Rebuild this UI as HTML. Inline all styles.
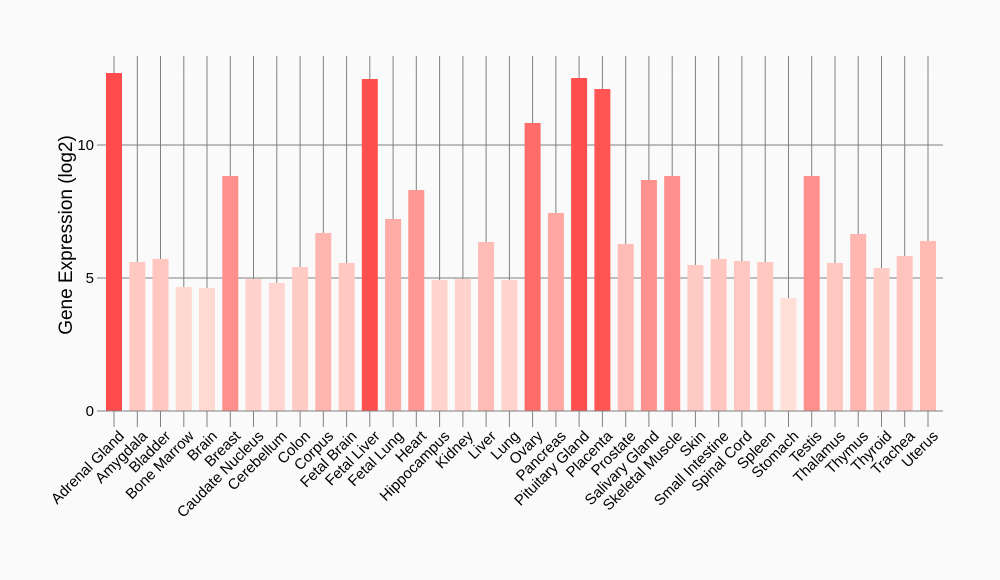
<!DOCTYPE html>
<html><head><meta charset="utf-8"><style>
html,body{margin:0;padding:0;background:#fafafa;}
svg{display:block;font-family:"Liberation Sans",sans-serif;}
</style></head><body>
<svg width="1000" height="580" viewBox="0 0 1000 580" xmlns="http://www.w3.org/2000/svg">
<rect width="1000" height="580" fill="#fafafa"/>
<line x1="103" y1="78" x2="943" y2="78" stroke="#ffffff" stroke-width="1"/>
<g stroke="#808080" stroke-width="1">
<line x1="114" y1="56" x2="114" y2="411"/><line x1="137.3" y1="56" x2="137.3" y2="411"/><line x1="160.5" y1="56" x2="160.5" y2="411"/><line x1="183.8" y1="56" x2="183.8" y2="411"/><line x1="207" y1="56" x2="207" y2="411"/><line x1="230.3" y1="56" x2="230.3" y2="411"/><line x1="253.5" y1="56" x2="253.5" y2="411"/><line x1="276.8" y1="56" x2="276.8" y2="411"/><line x1="300.1" y1="56" x2="300.1" y2="411"/><line x1="323.3" y1="56" x2="323.3" y2="411"/><line x1="346.6" y1="56" x2="346.6" y2="411"/><line x1="369.8" y1="56" x2="369.8" y2="411"/><line x1="393.1" y1="56" x2="393.1" y2="411"/><line x1="416.3" y1="56" x2="416.3" y2="411"/><line x1="439.6" y1="56" x2="439.6" y2="411"/><line x1="462.9" y1="56" x2="462.9" y2="411"/><line x1="486.1" y1="56" x2="486.1" y2="411"/><line x1="509.4" y1="56" x2="509.4" y2="411"/><line x1="532.6" y1="56" x2="532.6" y2="411"/><line x1="555.9" y1="56" x2="555.9" y2="411"/><line x1="579.1" y1="56" x2="579.1" y2="411"/><line x1="602.4" y1="56" x2="602.4" y2="411"/><line x1="625.7" y1="56" x2="625.7" y2="411"/><line x1="648.9" y1="56" x2="648.9" y2="411"/><line x1="672.2" y1="56" x2="672.2" y2="411"/><line x1="695.4" y1="56" x2="695.4" y2="411"/><line x1="718.7" y1="56" x2="718.7" y2="411"/><line x1="741.9" y1="56" x2="741.9" y2="411"/><line x1="765.2" y1="56" x2="765.2" y2="411"/><line x1="788.5" y1="56" x2="788.5" y2="411"/><line x1="811.7" y1="56" x2="811.7" y2="411"/><line x1="835" y1="56" x2="835" y2="411"/><line x1="858.2" y1="56" x2="858.2" y2="411"/><line x1="881.5" y1="56" x2="881.5" y2="411"/><line x1="904.7" y1="56" x2="904.7" y2="411"/><line x1="928" y1="56" x2="928" y2="411"/>
<line x1="97" y1="145" x2="943" y2="145"/><line x1="97" y1="278" x2="943" y2="278"/><line x1="97" y1="411" x2="943" y2="411"/>
</g>
<g>
<rect x="106" y="73" width="16" height="338" fill="rgb(255,75,75)"/>
<rect x="129.3" y="262" width="16" height="149" fill="rgb(255,200,193)"/>
<rect x="152.5" y="259" width="16" height="152" fill="rgb(255,199,192)"/>
<rect x="175.8" y="287" width="16" height="124" fill="rgb(255,217,209)"/>
<rect x="199" y="288" width="16" height="123" fill="rgb(255,217,210)"/>
<rect x="222.3" y="176" width="16" height="235" fill="rgb(255,143,140)"/>
<rect x="245.5" y="279" width="16" height="132" fill="rgb(255,211,204)"/>
<rect x="268.8" y="283" width="16" height="128" fill="rgb(255,214,207)"/>
<rect x="292.1" y="267" width="16" height="144" fill="rgb(255,204,197)"/>
<rect x="315.3" y="233" width="16" height="178" fill="rgb(255,181,175)"/>
<rect x="338.6" y="263" width="16" height="148" fill="rgb(255,201,194)"/>
<rect x="361.8" y="79" width="16" height="332" fill="rgb(255,79,79)"/>
<rect x="385.1" y="219" width="16" height="192" fill="rgb(255,172,167)"/>
<rect x="408.3" y="190" width="16" height="221" fill="rgb(255,152,148)"/>
<rect x="431.6" y="280" width="16" height="131" fill="rgb(255,212,205)"/>
<rect x="454.9" y="279" width="16" height="132" fill="rgb(255,211,204)"/>
<rect x="478.1" y="242" width="16" height="169" fill="rgb(255,187,181)"/>
<rect x="501.4" y="280" width="16" height="131" fill="rgb(255,212,205)"/>
<rect x="524.6" y="123" width="16" height="288" fill="rgb(255,108,106)"/>
<rect x="547.9" y="213" width="16" height="198" fill="rgb(255,168,163)"/>
<rect x="571.1" y="78" width="16" height="333" fill="rgb(255,78,78)"/>
<rect x="594.4" y="89" width="16" height="322" fill="rgb(255,85,85)"/>
<rect x="617.7" y="244" width="16" height="167" fill="rgb(255,188,182)"/>
<rect x="640.9" y="180" width="16" height="231" fill="rgb(255,146,143)"/>
<rect x="664.2" y="176" width="16" height="235" fill="rgb(255,143,140)"/>
<rect x="687.4" y="265" width="16" height="146" fill="rgb(255,202,195)"/>
<rect x="710.7" y="259" width="16" height="152" fill="rgb(255,198,192)"/>
<rect x="733.9" y="261" width="16" height="150" fill="rgb(255,199,193)"/>
<rect x="757.2" y="262" width="16" height="149" fill="rgb(255,200,193)"/>
<rect x="780.5" y="298" width="16" height="113" fill="rgb(255,224,216)"/>
<rect x="803.7" y="176" width="16" height="235" fill="rgb(255,143,140)"/>
<rect x="827" y="263" width="16" height="148" fill="rgb(255,201,194)"/>
<rect x="850.2" y="234" width="16" height="177" fill="rgb(255,182,176)"/>
<rect x="873.5" y="268" width="16" height="143" fill="rgb(255,204,197)"/>
<rect x="896.7" y="256" width="16" height="155" fill="rgb(255,196,190)"/>
<rect x="920" y="241" width="16" height="170" fill="rgb(255,186,180)"/>
</g>
<g stroke="#808080" stroke-width="1">
<line x1="97" y1="411" x2="943" y2="411"/>
<line x1="114" y1="411" x2="114" y2="427"/><line x1="137.3" y1="411" x2="137.3" y2="427"/><line x1="160.5" y1="411" x2="160.5" y2="427"/><line x1="183.8" y1="411" x2="183.8" y2="427"/><line x1="207" y1="411" x2="207" y2="427"/><line x1="230.3" y1="411" x2="230.3" y2="427"/><line x1="253.5" y1="411" x2="253.5" y2="427"/><line x1="276.8" y1="411" x2="276.8" y2="427"/><line x1="300.1" y1="411" x2="300.1" y2="427"/><line x1="323.3" y1="411" x2="323.3" y2="427"/><line x1="346.6" y1="411" x2="346.6" y2="427"/><line x1="369.8" y1="411" x2="369.8" y2="427"/><line x1="393.1" y1="411" x2="393.1" y2="427"/><line x1="416.3" y1="411" x2="416.3" y2="427"/><line x1="439.6" y1="411" x2="439.6" y2="427"/><line x1="462.9" y1="411" x2="462.9" y2="427"/><line x1="486.1" y1="411" x2="486.1" y2="427"/><line x1="509.4" y1="411" x2="509.4" y2="427"/><line x1="532.6" y1="411" x2="532.6" y2="427"/><line x1="555.9" y1="411" x2="555.9" y2="427"/><line x1="579.1" y1="411" x2="579.1" y2="427"/><line x1="602.4" y1="411" x2="602.4" y2="427"/><line x1="625.7" y1="411" x2="625.7" y2="427"/><line x1="648.9" y1="411" x2="648.9" y2="427"/><line x1="672.2" y1="411" x2="672.2" y2="427"/><line x1="695.4" y1="411" x2="695.4" y2="427"/><line x1="718.7" y1="411" x2="718.7" y2="427"/><line x1="741.9" y1="411" x2="741.9" y2="427"/><line x1="765.2" y1="411" x2="765.2" y2="427"/><line x1="788.5" y1="411" x2="788.5" y2="427"/><line x1="811.7" y1="411" x2="811.7" y2="427"/><line x1="835" y1="411" x2="835" y2="427"/><line x1="858.2" y1="411" x2="858.2" y2="427"/><line x1="881.5" y1="411" x2="881.5" y2="427"/><line x1="904.7" y1="411" x2="904.7" y2="427"/><line x1="928" y1="411" x2="928" y2="427"/>
</g>
<g font-size="15" fill="#000" text-anchor="end">
<text x="94" y="150">10</text><text x="94" y="283">5</text><text x="94" y="416">0</text>
</g>
<text transform="translate(72,235) rotate(-90)" font-size="19" text-anchor="middle" fill="#000">Gene Expression (log2)</text>
<g font-size="15" fill="#000" text-anchor="end">
<text transform="translate(125,437) rotate(-45)">Adrenal Gland</text>
<text transform="translate(148.3,437) rotate(-45)">Amygdala</text>
<text transform="translate(171.5,437) rotate(-45)">Bladder</text>
<text transform="translate(194.8,437) rotate(-45)">Bone Marrow</text>
<text transform="translate(218,437) rotate(-45)">Brain</text>
<text transform="translate(241.3,437) rotate(-45)">Breast</text>
<text transform="translate(264.5,437) rotate(-45)">Caudate Nucleus</text>
<text transform="translate(287.8,437) rotate(-45)">Cerebellum</text>
<text transform="translate(311.1,437) rotate(-45)">Colon</text>
<text transform="translate(334.3,437) rotate(-45)">Corpus</text>
<text transform="translate(357.6,437) rotate(-45)">Fetal Brain</text>
<text transform="translate(380.8,437) rotate(-45)">Fetal Liver</text>
<text transform="translate(404.1,437) rotate(-45)">Fetal Lung</text>
<text transform="translate(427.3,437) rotate(-45)">Heart</text>
<text transform="translate(450.6,437) rotate(-45)">Hippocampus</text>
<text transform="translate(473.9,437) rotate(-45)">Kidney</text>
<text transform="translate(497.1,437) rotate(-45)">Liver</text>
<text transform="translate(520.4,437) rotate(-45)">Lung</text>
<text transform="translate(543.6,437) rotate(-45)">Ovary</text>
<text transform="translate(566.9,437) rotate(-45)">Pancreas</text>
<text transform="translate(590.1,437) rotate(-45)">Pituitary Gland</text>
<text transform="translate(613.4,437) rotate(-45)">Placenta</text>
<text transform="translate(636.7,437) rotate(-45)">Prostate</text>
<text transform="translate(659.9,437) rotate(-45)">Salivary Gland</text>
<text transform="translate(683.2,437) rotate(-45)">Skeletal Muscle</text>
<text transform="translate(706.4,437) rotate(-45)">Skin</text>
<text transform="translate(729.7,437) rotate(-45)">Small Intestine</text>
<text transform="translate(752.9,437) rotate(-45)">Spinal Cord</text>
<text transform="translate(776.2,437) rotate(-45)">Spleen</text>
<text transform="translate(799.5,437) rotate(-45)">Stomach</text>
<text transform="translate(822.7,437) rotate(-45)">Testis</text>
<text transform="translate(846,437) rotate(-45)">Thalamus</text>
<text transform="translate(869.2,437) rotate(-45)">Thymus</text>
<text transform="translate(892.5,437) rotate(-45)">Thyroid</text>
<text transform="translate(915.7,437) rotate(-45)">Trachea</text>
<text transform="translate(939,437) rotate(-45)">Uterus</text>
</g>
</svg>
</body></html>
